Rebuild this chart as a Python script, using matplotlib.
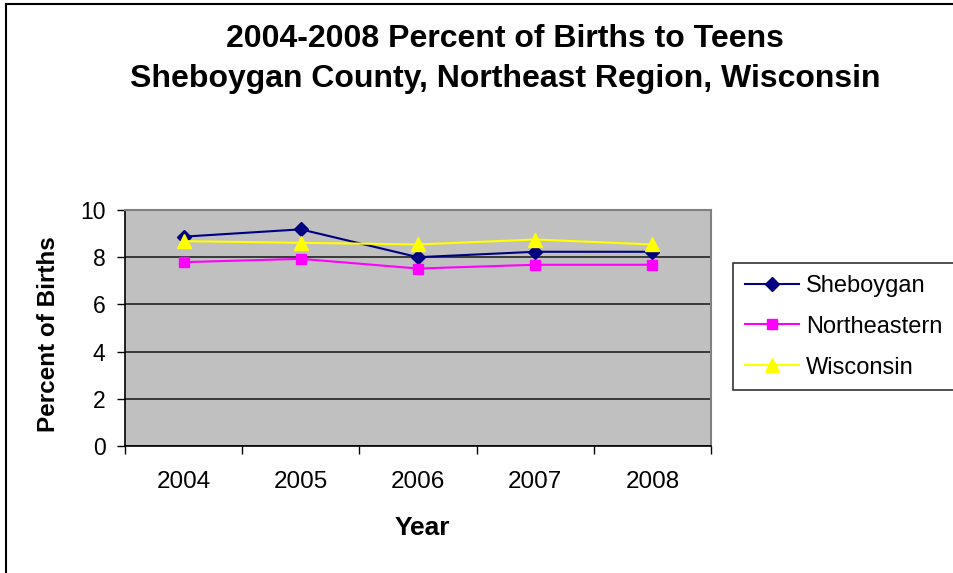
import numpy as np
import matplotlib
matplotlib.use("Agg")
import matplotlib.pyplot as plt
from matplotlib.lines import Line2D

years = ['2004', '2005', '2006', '2007', '2008']
sheboygan = [8.87, 9.18, 8.0, 8.23, 8.23]
northeastern = [7.79, 7.93, 7.52, 7.68, 7.68]
wisconsin = [8.68, 8.61, 8.54, 8.75, 8.54]

plt.rcParams['font.family'] = ['Liberation Sans', 'DejaVu Sans']

W, H = 954, 573
fig = plt.figure(figsize=(W / 100, H / 100), dpi=100)
fig.patch.set_facecolor('white')

def px(x0, y0, x1, y1):
    # pixel box (top-left origin) -> figure fraction rect
    return [x0 / W, 1 - y1 / H, (x1 - x0) / W, (y1 - y0) / H]

# chart area border (left and top visible)
fig.add_artist(Line2D([6 / W, 6 / W], [0, 1 - 4 / H], color='black', lw=1.5, transform=fig.transFigure))
fig.add_artist(Line2D([6 / W, 1], [1 - 4 / H, 1 - 4 / H], color='black', lw=1.5, transform=fig.transFigure))

ax = fig.add_axes(px(125, 210, 711, 446))
ax.set_facecolor('#C0C0C0')

x = np.arange(len(years))
series = [
    ('Sheboygan', sheboygan, '#000080', 'D', 7),
    ('Northeastern', northeastern, '#FF00FF', 's', 7.5),
    ('Wisconsin', wisconsin, '#FFFF00', '^', 9.5),
]
handles = []
for name, vals, col, mk, ms in series:
    h, = ax.plot(x, vals, color=col, lw=1.5, marker=mk, markersize=ms,
                 markerfacecolor=col, markeredgecolor=col, label=name, zorder=3)
    handles.append(h)

ax.set_xlim(-0.5, len(years) - 0.5)
ax.set_ylim(0, 10)
ax.set_yticks(np.arange(0, 11, 2))
ax.yaxis.grid(True, color='#222222', lw=1.2)
ax.set_axisbelow(True)

ax.set_xticks(x)
ax.set_xticklabels(years)
ax.set_xticks(np.arange(-0.5, len(years), 1), minor=True)
ax.tick_params(axis='x', which='major', length=0, pad=18, labelsize=17.5)
ax.tick_params(axis='x', which='minor', length=6, width=1, direction='out', color='black')
ax.tick_params(axis='y', length=6, width=1, direction='out', labelsize=16.5, pad=8)

for s in ['top', 'right']:
    ax.spines[s].set_color('#808080')
    ax.spines[s].set_linewidth(1.5)
for s in ['left', 'bottom']:
    ax.spines[s].set_color('black')
    ax.spines[s].set_linewidth(1.2)

fig.text(422 / W, 1 - 528 / H, 'Year', ha='center', va='center',
         fontsize=19, fontweight='bold')
fig.text(49 / W, 1 - 334 / H, 'Percent of Births', ha='center', va='center',
         rotation=90, fontsize=17.5, fontweight='bold')

fig.text(505 / W, 1 - 47 / H, '2004-2008 Percent of Births to Teens',
         ha='center', va='baseline', fontsize=23, fontweight='bold')
fig.text(505 / W, 1 - 87 / H, 'Sheboygan County, Northeast Region, Wisconsin',
         ha='center', va='baseline', fontsize=23, fontweight='bold')

leg = fig.legend(handles=handles, loc='upper left', bbox_to_anchor=(733 / W, 1 - 263 / H),
                 fontsize=17, frameon=True, fancybox=False, edgecolor='black',
                 handlelength=2.3, handletextpad=0.3, labelspacing=0.8,
                 borderpad=0.5, borderaxespad=0)
leg.get_frame().set_linewidth(1.2)

fig.savefig('out.png', dpi=100)
